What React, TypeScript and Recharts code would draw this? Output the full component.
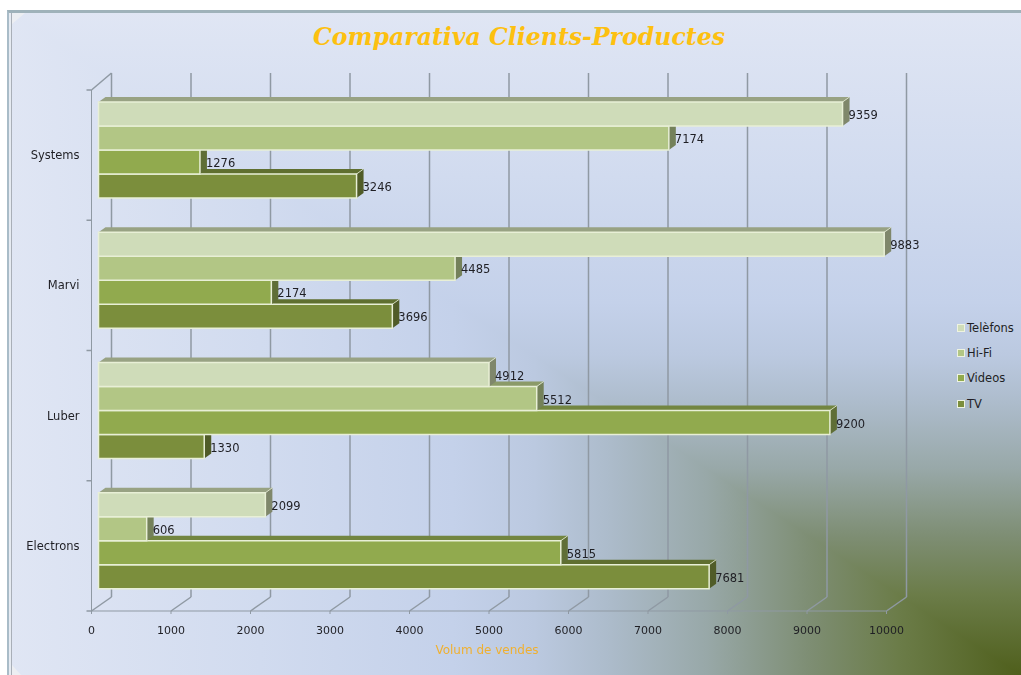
import { Bar, BarChart, CartesianGrid, LabelList, XAxis, YAxis } from "recharts";

const clients = ["Systems", "Marvi", "Luber", "Electrons"];
const telefons = [9359, 9883, 4912, 2099];
const hifi = [7174, 4485, 5512, 606];
const videos = [1276, 2174, 9200, 5815];
const tv = [3246, 3696, 1330, 7681];
const valueTicks = [0, 1000, 2000, 3000, 4000, 5000, 6000, 7000, 8000, 9000, 10000];

const data = clients.map((name, i) => ({
  name,
  telefons: telefons[i],
  hifi: hifi[i],
  videos: videos[i],
  tv: tv[i],
}));

// legend order, top to bottom
const series = [
  { key: "telefons", name: "Telèfons", front: "#cfdcb9", top: "#98a283", side: "#7f876b" },
  { key: "hifi", name: "Hi-Fi", front: "#b2c685", top: "#8b9a68", side: "#74815a" },
  { key: "videos", name: "Videos", front: "#91aa4e", top: "#728540", side: "#5f6e36" },
  { key: "tv", name: "TV", front: "#7b8e3c", top: "#5f6f30", side: "#505c28" },
];

const GRID = "#8f99a3";
const TEXT = "#1f1f24";
const AXIS_X = 91.5;
const BAND = 130.25;
const BAR_DX = 7;
const BAR_DY = -5.5;
const DEPTH_X = 7;
const DEPTH_Y = 5;

const cornerStops =
  "#4f5f1c 0%, #6b7c48 12%, #7e8e74 21%, #98a8a8 31%, #adbccc 41%, #bbc9e0 48%, #c4d1ea 56%, #d1dbef 75%, #e0e6f4 100%";

// Bars are declared back to front so the upper ones paint over the lower ones' top faces,
// so each one is mirrored inside its band to get the order of the original back.
function mirror(order: number, height: number) {
  return (3 - 2 * order) * height;
}

function bar3d(order: number, front: string, top: string, side: string) {
  return (props: any) => {
    const { x, y, width, height } = props;
    const x0 = x + BAR_DX;
    const y0 = y + BAR_DY + mirror(order, height);
    const x1 = x0 + width;
    const y1 = y0 + height;
    return (
      <g>
        <polygon
          points={`${x0},${y0} ${x0 + DEPTH_X},${y0 - DEPTH_Y} ${x1 + DEPTH_X},${y0 - DEPTH_Y} ${x1},${y0}`}
          fill={top}
        />
        <polygon
          points={`${x1},${y0} ${x1 + DEPTH_X},${y0 - DEPTH_Y} ${x1 + DEPTH_X},${y1 - DEPTH_Y} ${x1},${y1}`}
          fill={side}
        />
        <line x1={x1} y1={y0} x2={x1 + DEPTH_X} y2={y0 - DEPTH_Y} stroke="#e8efd6" strokeWidth={0.8} />
        <rect x={x0} y={y0} width={width} height={height} fill={front} stroke="#e8efd6" strokeWidth={1.5} />
      </g>
    );
  };
}

function valueLabel(order: number) {
  return (props: any) => {
    const { x, y, width, height, value } = props;
    return (
      <text
        x={x + BAR_DX + width + 6}
        y={y + BAR_DY + mirror(order, height) + height / 2 + 5}
        fontSize={11.5}
        fill={TEXT}
      >
        {value}
      </text>
    );
  };
}

function WallLine(props: any) {
  const { x1, y1, y2 } = props;
  return (
    <g stroke={GRID} strokeWidth={1.5}>
      <line x1={x1 + 20} y1={y1 - 17} x2={x1 + 20} y2={y2 - 14} />
      <line x1={x1} y1={y2} x2={x1 + 20} y2={y2 - 14} />
      {x1 < AXIS_X + 1 && <line x1={x1} y1={y1} x2={x1 + 20} y2={y1 - 17} />}
    </g>
  );
}

// the original puts its marks between the categories, not on them
function CategoryTick(props: any) {
  const { y, payload, index } = props;
  return (
    <g>
      <line x1={AXIS_X - 5} y1={y - BAND / 2} x2={AXIS_X} y2={y - BAND / 2} stroke={GRID} strokeWidth={1.5} />
      {index === clients.length - 1 && (
        <line x1={AXIS_X - 5} y1={y + BAND / 2} x2={AXIS_X} y2={y + BAND / 2} stroke={GRID} strokeWidth={1.5} />
      )}
      <text x={79.5} y={y + 4} textAnchor="end" fontSize={11.5} fill={TEXT}>
        {payload.value}
      </text>
    </g>
  );
}

function LegendBox() {
  return (
    <div style={{ position: "absolute", left: 957, top: 315 }}>
      {series.map((s) => (
        <div key={s.key} style={{ display: "flex", alignItems: "center", height: 25.3 }}>
          <span
            style={{
              width: 6,
              height: 6,
              background: s.front,
              border: "1px solid #eef3e0",
              marginRight: 2,
            }}
          />
          <span style={{ fontSize: 11.5, color: TEXT }}>{s.name}</span>
        </div>
      ))}
    </div>
  );
}

export default function App() {
  return (
    <div
      style={{
        position: "absolute",
        left: 0,
        top: 0,
        width: 1021,
        height: 675,
        overflow: "hidden",
        background: "#fff",
        fontFamily: "'DejaVu Sans', sans-serif",
      }}
    >
      {/* corner gradient of the frame: the upper half is laid over the whole along the diagonal */}
      <div
        style={{
          position: "absolute",
          left: 7,
          top: 10,
          width: 1014,
          height: 665,
          background: `linear-gradient(to left, ${cornerStops})`,
        }}
      />
      <div
        style={{
          position: "absolute",
          left: 7,
          top: 10,
          width: 1014,
          height: 665,
          background: `linear-gradient(to top, ${cornerStops})`,
          clipPath: "polygon(0 0, 100% 0, 100% 100%)",
        }}
      />
      <div
        style={{
          position: "absolute",
          left: 7,
          top: 10,
          width: 1040,
          height: 690,
          boxSizing: "border-box",
          borderTop: "3px solid #9fb2ba",
          borderLeft: "2px solid #a9bcc8",
          boxShadow: "inset 2px 0 0 #e6ebf2, inset 3px 0 0 #a9afb8",
        }}
      />
      <div
        style={{
          position: "absolute",
          left: 12,
          top: 13,
          width: 13,
          height: 11,
          background: "#eceef2",
          clipPath: "polygon(0 0, 100% 0, 0 100%)",
        }}
      />
      <div
        style={{
          position: "absolute",
          left: 12,
          top: 665,
          width: 9,
          height: 10,
          background: "#eceef2",
          clipPath: "polygon(0 0, 100% 100%, 0 100%)",
        }}
      />
      <div
        style={{
          position: "absolute",
          left: 0,
          width: 1038,
          top: 23,
          textAlign: "center",
          fontFamily: "'DejaVu Serif', serif",
          fontWeight: "bold",
          fontStyle: "italic",
          fontSize: 23.6,
          color: "#fdc010",
        }}
      >
        Comparativa Clients-Productes
      </div>
      <div style={{ position: "absolute", left: 0, top: 0, filter: "blur(0.35px)" }}>
        <BarChart
          width={1021}
          height={675}
          data={data}
          layout="vertical"
          barCategoryGap={17.5}
          barGap={0}
          margin={{ top: 90, right: 134.5, bottom: 24, left: 0 }}
        >
          <CartesianGrid horizontal={false} vertical={(p: any) => <WallLine key={p.key} {...p} />} />
          <XAxis
            type="number"
            domain={[0, 10000]}
            ticks={valueTicks}
            interval={0}
            height={40}
            tickSize={3}
            tickMargin={12}
            stroke={GRID}
            tick={{ fontSize: 11, fill: TEXT }}
            label={{
              value: "Volum de vendes",
              position: "insideBottom",
              offset: -3,
              dx: -2,
              fontSize: 12,
              fill: "#f0b030",
            }}
          />
          <YAxis
            type="category"
            dataKey="name"
            width={AXIS_X}
            tickLine={false}
            stroke={GRID}
            tick={CategoryTick}
          />
          {[...series].reverse().map((s, order) => (
            <Bar key={s.key} dataKey={s.key} name={s.name} isAnimationActive={false} shape={bar3d(order, s.front, s.top, s.side)}>
              <LabelList dataKey={s.key} content={valueLabel(order)} />
            </Bar>
          ))}
        </BarChart>
      </div>
      <LegendBox />
    </div>
  );
}
